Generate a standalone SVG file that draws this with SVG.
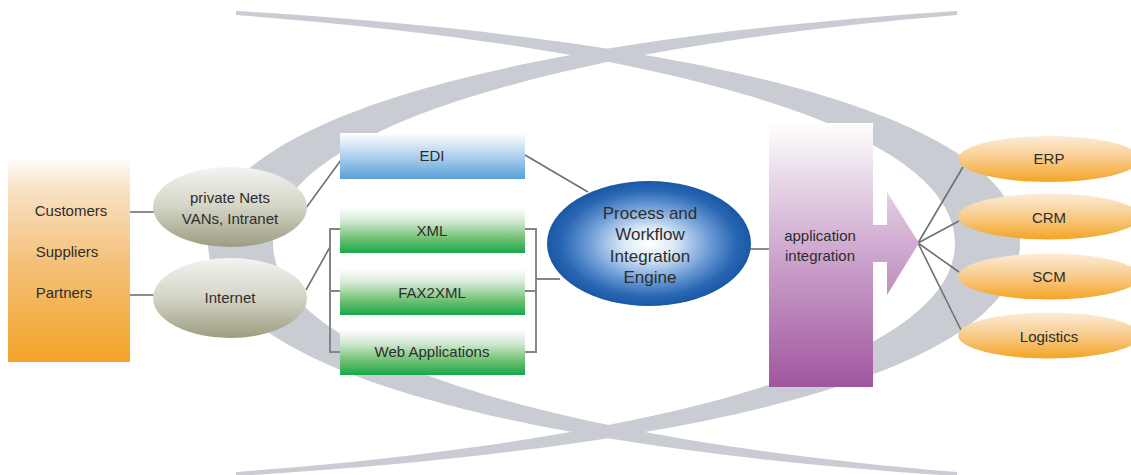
<svg xmlns="http://www.w3.org/2000/svg" width="1131" height="475" viewBox="0 0 1131 475">
<style>
  text { font-family: "Liberation Sans", Arial, sans-serif; fill: #2d2d2d; text-anchor: middle; dominant-baseline: central; }
  .t15 { font-size: 15px; }
  .t17 { font-size: 17px; }
  .band { fill: #c9ccd3; }
  .conn { stroke: #6e7072; stroke-width: 1.6; fill: none; }
  .brk { stroke: #838587; stroke-width: 2; fill: none; }
</style>
<defs>
  <linearGradient id="gOrangeBox" x1="0" y1="0" x2="0" y2="1">
    <stop offset="0" stop-color="#ffffff"/>
    <stop offset="0.15" stop-color="#f8e2c6"/>
    <stop offset="0.5" stop-color="#f5c27c"/>
    <stop offset="1" stop-color="#f2a328"/>
  </linearGradient>
  <linearGradient id="gGrayEll" x1="0" y1="0" x2="0" y2="1">
    <stop offset="0" stop-color="#f4f4f1"/>
    <stop offset="0.5" stop-color="#d3d3c6"/>
    <stop offset="1" stop-color="#9c9d7f"/>
  </linearGradient>
  <linearGradient id="gBlue" x1="0" y1="0" x2="0" y2="1">
    <stop offset="0" stop-color="#ffffff"/>
    <stop offset="0.35" stop-color="#c9def3"/>
    <stop offset="1" stop-color="#58a0d8"/>
  </linearGradient>
  <linearGradient id="gGreen" x1="0" y1="0" x2="0" y2="1">
    <stop offset="0" stop-color="#ffffff"/>
    <stop offset="0.3" stop-color="#d4ead5"/>
    <stop offset="0.7" stop-color="#6cbf70"/>
    <stop offset="1" stop-color="#16a84a"/>
  </linearGradient>
  <radialGradient id="gEngine" cx="0.5" cy="0.5" r="0.5">
    <stop offset="0" stop-color="#ffffff"/>
    <stop offset="0.25" stop-color="#dce9f7"/>
    <stop offset="0.6" stop-color="#6b9bd6"/>
    <stop offset="0.85" stop-color="#2a67b3"/>
    <stop offset="1" stop-color="#1a57a5"/>
  </radialGradient>
  <linearGradient id="gPurple" gradientUnits="userSpaceOnUse" x1="0" y1="123" x2="0" y2="387">
    <stop offset="0" stop-color="#ffffff"/>
    <stop offset="0.18" stop-color="#ebdeeb"/>
    <stop offset="0.5" stop-color="#cda5cd"/>
    <stop offset="1" stop-color="#a0569f"/>
  </linearGradient>
  <linearGradient id="gOrangeEll" x1="0" y1="0" x2="0" y2="1">
    <stop offset="0" stop-color="#fcecd8"/>
    <stop offset="0.5" stop-color="#f8cb8a"/>
    <stop offset="1" stop-color="#f3a424"/>
  </linearGradient>
</defs>

<g id="swoosh">
  <path class="band" d="M236,11 C736,41 1020,123 1020,243 C1020,364 736,446 236,476 L236,472 C686,438 955,354 955,243 C955,133 686,49 236,15 Z"/>
  <path class="band" d="M957,11 C492,41 208,123 208,243 C208,364 492,446 957,476 L957,472 C542,438 273,354 273,243 C273,133 542,49 957,15 Z"/>
</g>

<g id="connectors">
  <line class="conn" x1="130" y1="212" x2="155" y2="212"/>
  <line class="conn" x1="130" y1="295" x2="155" y2="295"/>
  <line class="conn" x1="306" y1="208" x2="341" y2="160"/>
  <line class="conn" x1="306" y1="290" x2="330" y2="247"/>
  <path class="brk" d="M341,229 H330 V352 H341 M330,291 H341"/>
  <path class="brk" d="M524,229 H536 V352 H524 M524,291 H536 M536,279 H560"/>
  <line class="conn" x1="525" y1="155" x2="588" y2="192"/>
  <line class="conn" x1="750" y1="249" x2="770" y2="249"/>
  <line class="conn" x1="918" y1="243" x2="963" y2="167"/>
  <line class="conn" x1="918" y1="243" x2="959" y2="221"/>
  <line class="conn" x1="918" y1="243" x2="959" y2="272"/>
  <line class="conn" x1="918" y1="243" x2="961" y2="330"/>
</g>

<g id="partners">
  <rect x="8" y="157" width="122" height="205" fill="url(#gOrangeBox)"/>
  <text class="t15" x="71" y="210">Customers</text>
  <text class="t15" x="67" y="251">Suppliers</text>
  <text class="t15" x="64" y="292">Partners</text>
</g>

<g id="private-nets">
  <ellipse cx="230" cy="207" rx="77" ry="40" fill="url(#gGrayEll)"/>
  <text class="t15" x="230" y="197">private Nets</text>
  <text class="t15" x="230" y="218">VANs, Intranet</text>
</g>

<g id="internet">
  <ellipse cx="230" cy="298" rx="77" ry="40" fill="url(#gGrayEll)"/>
  <text class="t15" x="230" y="297">Internet</text>
</g>

<g id="edi">
  <rect x="340" y="133" width="185" height="46" fill="url(#gBlue)"/>
  <text class="t15" x="432" y="155">EDI</text>
</g>

<g id="xml">
  <rect x="340" y="207" width="185" height="46" fill="url(#gGreen)"/>
  <text class="t15" x="432" y="230">XML</text>
</g>

<g id="fax2xml">
  <rect x="340" y="269" width="185" height="46" fill="url(#gGreen)"/>
  <text class="t15" x="432" y="292">FAX2XML</text>
</g>

<g id="web-applications">
  <rect x="340" y="329" width="185" height="46" fill="url(#gGreen)"/>
  <text class="t15" x="432" y="351">Web Applications</text>
</g>

<g id="engine">
  <ellipse cx="649" cy="243.5" rx="102" ry="62.5" fill="url(#gEngine)"/>
  <text class="t17" x="650" y="213">Process and</text>
  <text class="t17" x="650" y="234">Workflow</text>
  <text class="t17" x="650" y="256">Integration</text>
  <text class="t17" x="650" y="277">Engine</text>
</g>

<g id="application-integration">
  <rect x="769" y="123" width="104" height="264" fill="url(#gPurple)"/>
  <polygon points="872,225 887,225 887,192 919,243 887,295 887,262 872,262" fill="url(#gPurple)"/>
  <text class="t15" x="820" y="235">application</text>
  <text class="t15" x="820" y="255">integration</text>
</g>

<g id="erp">
  <ellipse cx="1049" cy="159" rx="91" ry="23" fill="url(#gOrangeEll)"/>
  <text class="t15" x="1049" y="158">ERP</text>
</g>
<g id="crm">
  <ellipse cx="1049" cy="216.5" rx="91" ry="23" fill="url(#gOrangeEll)"/>
  <text class="t15" x="1049" y="217">CRM</text>
</g>
<g id="scm">
  <ellipse cx="1049" cy="276.5" rx="91" ry="23" fill="url(#gOrangeEll)"/>
  <text class="t15" x="1049" y="276">SCM</text>
</g>
<g id="logistics">
  <ellipse cx="1049" cy="335.5" rx="91" ry="23" fill="url(#gOrangeEll)"/>
  <text class="t15" x="1049" y="336">Logistics</text>
</g>
</svg>
